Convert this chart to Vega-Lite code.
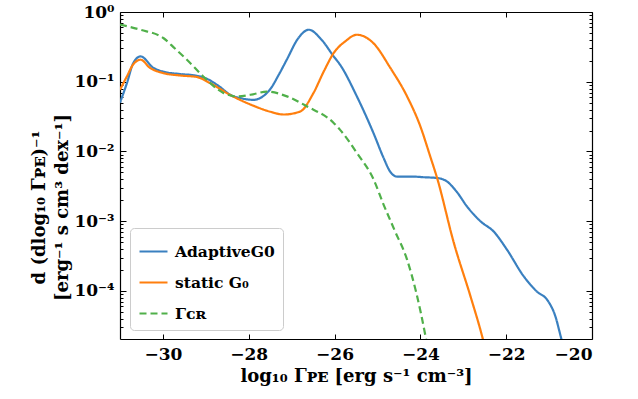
{
  "$schema": "https://vega.github.io/schema/vega-lite/v6.json",
  "width": 472,
  "height": 327,
  "autosize": {"type": "none"},
  "padding": {"left": 120, "top": 12, "right": 46, "bottom": 60},
  "background": "white",
  "config": {
    "view": {"stroke": null},
    "font": "DejaVu Serif",
    "axis": {
      "labelFont": "DejaVu Serif", "labelFontWeight": "bold", "labelFontSize": 17, "labelColor": "black",
      "titleFont": "DejaVu Serif", "titleFontWeight": "bold", "titleFontSize": 18, "titleColor": "black",
      "domainColor": "black", "domainWidth": 1.2, "tickColor": "black", "tickWidth": 1, "grid": false
    },
    "legend": {
      "labelFont": "DejaVu Serif", "labelFontWeight": "bold", "labelFontSize": 15.5, "labelColor": "black"
    }
  },
  "data": {"values": [
    {"s": "AdaptiveG0", "x": -31.0, "y": 0.050},
    {"s": "AdaptiveG0", "x": -30.84, "y": 0.095},
    {"s": "AdaptiveG0", "x": -30.69, "y": 0.186},
    {"s": "AdaptiveG0", "x": -30.52, "y": 0.231},
    {"s": "AdaptiveG0", "x": -30.22, "y": 0.158},
    {"s": "AdaptiveG0", "x": -30.0, "y": 0.140},
    {"s": "AdaptiveG0", "x": -29.6, "y": 0.129},
    {"s": "AdaptiveG0", "x": -29.25, "y": 0.123},
    {"s": "AdaptiveG0", "x": -29.0, "y": 0.112},
    {"s": "AdaptiveG0", "x": -28.7, "y": 0.087},
    {"s": "AdaptiveG0", "x": -28.43, "y": 0.065},
    {"s": "AdaptiveG0", "x": -28.15, "y": 0.0575},
    {"s": "AdaptiveG0", "x": -27.89, "y": 0.055},
    {"s": "AdaptiveG0", "x": -27.7, "y": 0.060},
    {"s": "AdaptiveG0", "x": -27.5, "y": 0.078},
    {"s": "AdaptiveG0", "x": -27.3, "y": 0.126},
    {"s": "AdaptiveG0", "x": -27.11, "y": 0.209},
    {"s": "AdaptiveG0", "x": -26.85, "y": 0.417},
    {"s": "AdaptiveG0", "x": -26.6, "y": 0.557},
    {"s": "AdaptiveG0", "x": -26.3, "y": 0.398},
    {"s": "AdaptiveG0", "x": -26.02, "y": 0.231},
    {"s": "AdaptiveG0", "x": -25.87, "y": 0.175},
    {"s": "AdaptiveG0", "x": -25.48, "y": 0.0617},
    {"s": "AdaptiveG0", "x": -25.09, "y": 0.0182},
    {"s": "AdaptiveG0", "x": -24.85, "y": 0.0079},
    {"s": "AdaptiveG0", "x": -24.70, "y": 0.0051},
    {"s": "AdaptiveG0", "x": -24.54, "y": 0.00437},
    {"s": "AdaptiveG0", "x": -24.2, "y": 0.00437},
    {"s": "AdaptiveG0", "x": -23.9, "y": 0.00427},
    {"s": "AdaptiveG0", "x": -23.61, "y": 0.00417},
    {"s": "AdaptiveG0", "x": -23.38, "y": 0.00372},
    {"s": "AdaptiveG0", "x": -23.15, "y": 0.00263},
    {"s": "AdaptiveG0", "x": -22.91, "y": 0.00162},
    {"s": "AdaptiveG0", "x": -22.6, "y": 0.00100},
    {"s": "AdaptiveG0", "x": -22.29, "y": 0.00071},
    {"s": "AdaptiveG0", "x": -21.98, "y": 0.00039},
    {"s": "AdaptiveG0", "x": -21.59, "y": 0.000162},
    {"s": "AdaptiveG0", "x": -21.28, "y": 0.0000977},
    {"s": "AdaptiveG0", "x": -21.04, "y": 0.0000741},
    {"s": "AdaptiveG0", "x": -20.85, "y": 0.0000427},
    {"s": "AdaptiveG0", "x": -20.73, "y": 0.0000224},
    {"s": "AdaptiveG0", "x": -20.70, "y": 0.000019},
    {"s": "static G₀", "x": -31.0, "y": 0.0767},
    {"s": "static G₀", "x": -30.84, "y": 0.119},
    {"s": "static G₀", "x": -30.69, "y": 0.178},
    {"s": "static G₀", "x": -30.52, "y": 0.207},
    {"s": "static G₀", "x": -30.3, "y": 0.158},
    {"s": "static G₀", "x": -29.99, "y": 0.133},
    {"s": "static G₀", "x": -29.6, "y": 0.123},
    {"s": "static G₀", "x": -29.21, "y": 0.117},
    {"s": "static G₀", "x": -28.9, "y": 0.0955},
    {"s": "static G₀", "x": -28.43, "y": 0.0646},
    {"s": "static G₀", "x": -27.89, "y": 0.0453},
    {"s": "static G₀", "x": -27.5, "y": 0.0372},
    {"s": "static G₀", "x": -27.19, "y": 0.0339},
    {"s": "static G₀", "x": -26.8, "y": 0.0375},
    {"s": "static G₀", "x": -26.49, "y": 0.0692},
    {"s": "static G₀", "x": -26.25, "y": 0.141},
    {"s": "static G₀", "x": -26.02, "y": 0.258},
    {"s": "static G₀", "x": -25.75, "y": 0.380},
    {"s": "static G₀", "x": -25.48, "y": 0.472},
    {"s": "static G₀", "x": -25.09, "y": 0.355},
    {"s": "static G₀", "x": -24.70, "y": 0.158},
    {"s": "static G₀", "x": -24.31, "y": 0.0617},
    {"s": "static G₀", "x": -24.0, "y": 0.0229},
    {"s": "static G₀", "x": -23.77, "y": 0.0085},
    {"s": "static G₀", "x": -23.61, "y": 0.00417},
    {"s": "static G₀", "x": -23.22, "y": 0.00049},
    {"s": "static G₀", "x": -22.83, "y": 0.0000832},
    {"s": "static G₀", "x": -22.56, "y": 0.0000224},
    {"s": "static G₀", "x": -22.53, "y": 0.000019},
    {"s": "Γᴄʀ", "x": -31.0, "y": 0.66},
    {"s": "Γᴄʀ", "x": -30.53, "y": 0.557},
    {"s": "Γᴄʀ", "x": -29.99, "y": 0.424},
    {"s": "Γᴄʀ", "x": -29.72, "y": 0.30},
    {"s": "Γᴄʀ", "x": -29.44, "y": 0.207},
    {"s": "Γᴄʀ", "x": -29.06, "y": 0.119},
    {"s": "Γᴄʀ", "x": -28.59, "y": 0.0692},
    {"s": "Γᴄʀ", "x": -28.28, "y": 0.0617},
    {"s": "Γᴄʀ", "x": -27.9, "y": 0.066},
    {"s": "Γᴄʀ", "x": -27.58, "y": 0.0724},
    {"s": "Γᴄʀ", "x": -27.11, "y": 0.0617},
    {"s": "Γᴄʀ", "x": -26.64, "y": 0.0443},
    {"s": "Γᴄʀ", "x": -26.02, "y": 0.0257},
    {"s": "Γᴄʀ", "x": -25.87, "y": 0.0204},
    {"s": "Γᴄʀ", "x": -25.48, "y": 0.00955},
    {"s": "Γᴄʀ", "x": -25.09, "y": 0.00398},
    {"s": "Γᴄʀ", "x": -24.86, "y": 0.00175},
    {"s": "Γᴄʀ", "x": -24.6, "y": 0.00074},
    {"s": "Γᴄʀ", "x": -24.31, "y": 0.000282},
    {"s": "Γᴄʀ", "x": -23.88, "y": 0.0000224},
    {"s": "Γᴄʀ", "x": -23.85, "y": 0.0000178}
  ]},
  "resolve": {"axis": {"x": "independent", "y": "independent"}},
  "layer": [
    {
      "mark": {"type": "line", "clip": true, "strokeWidth": 2.2, "interpolate": "monotone"},
      "encoding": {
        "x": {"field": "x", "type": "quantitative",
          "scale": {"domain": [-31, -20], "nice": false, "zero": false},
          "axis": {"orient": "bottom", "values": [-30, -28, -26, -24, -22, -20], "tickSize": -5, "labelPadding": 12,
            "labelExpr": "replace(format(datum.value, 'd'), '-', '−')",
            "title": "log₁₀ Γᴘᴇ [erg s⁻¹ cm⁻³]", "titlePadding": 5}},
        "y": {"field": "y", "type": "quantitative",
          "scale": {"type": "log", "domain": [0.0000205, 1], "nice": false},
          "axis": {"orient": "left",
            "values": [0.00003,0.00004,0.00005,0.00006,0.00007,0.00008,0.00009,0.0001,0.0002,0.0003,0.0004,0.0005,0.0006,0.0007,0.0008,0.0009,0.001,0.002,0.003,0.004,0.005,0.006,0.007,0.008,0.009,0.01,0.02,0.03,0.04,0.05,0.06,0.07,0.08,0.09,0.1,0.2,0.3,0.4,0.5,0.6,0.7,0.8,0.9,1],
            "tickSize": {"condition": {"test": "indexof([1,0.1,0.01,0.001,0.0001], datum.value) >= 0", "value": -6}, "value": -3},
            "labelOverlap": false, "labelPadding": 12,
            "labelExpr": "datum.value == 1 ? '10⁰' : datum.value == 0.1 ? '10⁻¹' : datum.value == 0.01 ? '10⁻²' : datum.value == 0.001 ? '10⁻³' : datum.value == 0.0001 ? '10⁻⁴' : ''",
            "title": ["d (dlog₁₀ Γᴘᴇ)⁻¹", "[erg⁻¹ s cm³ dex⁻¹]"],
            "titleLineHeight": 23, "titleAngle": -90, "titleX": -81, "titleY": 195, "titleAlign": "center", "titleBaseline": "middle"}},
        "color": {"field": "s", "type": "nominal",
          "scale": {"domain": ["AdaptiveG0", "static G₀", "Γᴄʀ"], "range": ["#3a80c0", "#ff7f0e", "#50b04a"]},
          "legend": {"title": null, "orient": "none", "legendX": 10, "legendY": 216,
            "symbolType": "stroke", "symbolSize": 784, "symbolStrokeWidth": 2.2, "rowPadding": 7,
            "strokeColor": "#cccccc", "cornerRadius": 4, "padding": 8, "labelOffset": 6, "fillColor": "white"}},
        "strokeDash": {"field": "s", "type": "nominal",
          "scale": {"domain": ["AdaptiveG0", "static G₀", "Γᴄʀ"], "range": [[1, 0], [1, 0], [7, 4]]},
          "legend": {"title": null, "orient": "none", "legendX": 10, "legendY": 216,
            "symbolType": "stroke", "symbolSize": 784, "symbolStrokeWidth": 2.2, "rowPadding": 7,
            "strokeColor": "#cccccc", "cornerRadius": 4, "padding": 8, "labelOffset": 6, "fillColor": "white"}}
      }
    },
    {
      "mark": {"type": "line", "clip": true, "opacity": 0},
      "encoding": {
        "x": {"field": "x", "type": "quantitative",
          "scale": {"domain": [-31, -20], "nice": false, "zero": false},
          "axis": {"orient": "top", "values": [-30, -28, -26, -24, -22, -20], "tickSize": -5, "labels": false, "title": null}},
        "y": {"field": "y", "type": "quantitative",
          "scale": {"type": "log", "domain": [0.0000205, 1], "nice": false},
          "axis": {"orient": "right",
            "values": [0.00003,0.00004,0.00005,0.00006,0.00007,0.00008,0.00009,0.0001,0.0002,0.0003,0.0004,0.0005,0.0006,0.0007,0.0008,0.0009,0.001,0.002,0.003,0.004,0.005,0.006,0.007,0.008,0.009,0.01,0.02,0.03,0.04,0.05,0.06,0.07,0.08,0.09,0.1,0.2,0.3,0.4,0.5,0.6,0.7,0.8,0.9,1],
            "tickSize": {"condition": {"test": "indexof([1,0.1,0.01,0.001,0.0001], datum.value) >= 0", "value": -6}, "value": -3},
            "labels": false, "title": null}},
        "detail": {"field": "s"}
      }
    }
  ]
}
